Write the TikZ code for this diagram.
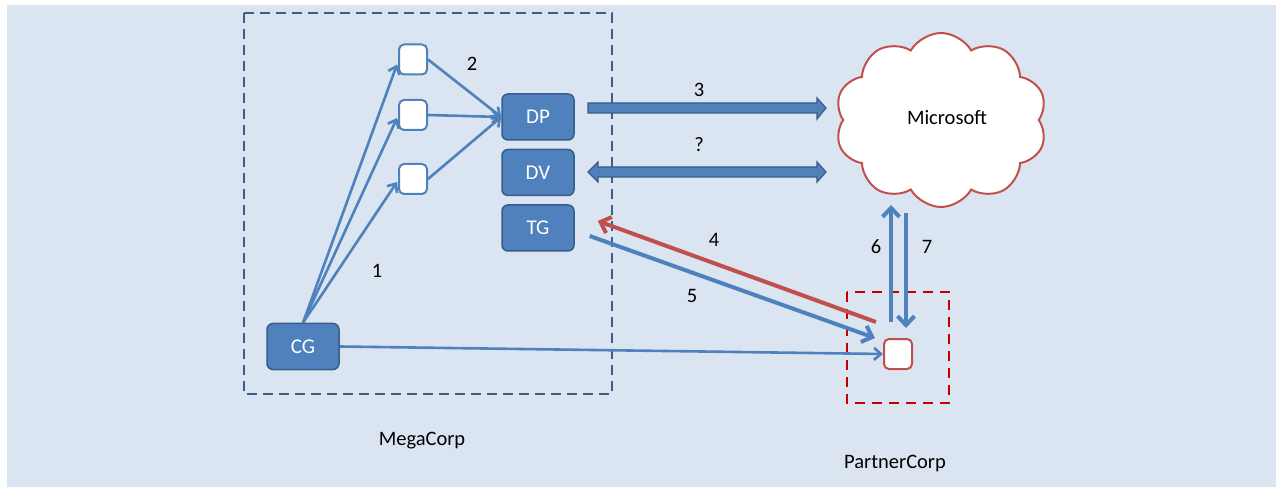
\documentclass[tikz,border=0pt]{standalone}
\usepackage{fontspec}
\setmainfont{Carlito}
\usetikzlibrary{arrows.meta,shapes.symbols,calc}
\definecolor{bg}{HTML}{DBE5F1}
\definecolor{obl}{HTML}{4F81BD}
\definecolor{obd}{HTML}{385D8A}
\definecolor{ored}{HTML}{C0504D}
\definecolor{dred}{HTML}{C00000}
\definecolor{mega}{HTML}{3C5F8A}
\begin{document}
\begin{tikzpicture}[x=1pt,y=-1pt,
  lbl/.style={font=\fontsize{20.5}{24}\selectfont, text=black, inner sep=0pt},
  bigbox/.style={draw=obd, fill=obl, line width=1.5pt, rounded corners=6pt, minimum width=72pt, minimum height=46pt, inner sep=0pt, text=white, font=\fontsize{21}{24}\selectfont},
  smallbox/.style={draw=obl, fill=white, line width=2pt, rounded corners=5pt, minimum width=28pt, minimum height=30pt, inner sep=0pt},
  thinarrow/.style={obl, line width=2.6pt, -{Straight Barb[length=7pt,width=12pt]}},
  thickarrow/.style={line width=4pt, -{Straight Barb[length=9pt,width=17pt]}},
  blockarrow/.style={draw=obd, fill=obl, line width=1.2pt, line join=miter},
  megabox/.style={draw=mega, line width=2.4pt, dash pattern=on 10pt off 6pt},
  partnerbox/.style={draw=dred, line width=2.4pt, dash pattern=on 10pt off 7pt}]
\useasboundingbox (0,0) rectangle (1278,489);
\fill[white] (0,0) rectangle (1278,489);
\fill[bg] (7,5) rectangle (1276,487);

% containers
\draw[megabox] (244,13) rectangle (612,394);
\draw[partnerbox] (847,292) rectangle (949,403);

% nodes
\node[bigbox] (DP) at (538,117) {DP};
\node[bigbox] (DV) at (538,172.5) {DV};
\node[bigbox] (TG) at (538,228) {TG};
\node[bigbox] (CG) at (303,346.5) {CG};
\node[smallbox] (s1) at (413,59.5) {};
\node[smallbox] (s2) at (413,115) {};
\node[smallbox] (s3) at (413,179) {};
\node[smallbox, draw=ored] (pc) at (898,354) {};
\node[cloud, cloud puffs=10, cloud puff arc=120, draw=ored, fill=white, line width=2pt,
      minimum width=212pt, minimum height=174pt, inner sep=0pt] (ms) at (941,120) {};
\node[lbl] (mst) at (947,118) {Microsoft};

% thin arrows
\draw[thinarrow] (CG.north) -- ($(s1.west)+(-1,5)$);
\draw[thinarrow] (CG.north) -- ($(s2.west)+(-1,3)$);
\draw[thinarrow] (CG.north) -- ($(s3.west)+(-1,3)$);
\draw[thinarrow] (s1.east) -- (DP.west);
\draw[thinarrow] (s2.east) -- (DP.west);
\draw[thinarrow] (s3.east) -- (DP.west);
\draw[thinarrow] (CG.east) -- (pc.west);

% block arrows
\draw[blockarrow] (588,103) -- (817,103) -- (817,98) -- (826,108) -- (817,119) -- (817,113) -- (588,113) -- cycle;
\draw[blockarrow] (588,172) -- (598,162) -- (598,167) -- (817,167) -- (817,162) -- (826,172) -- (817,182) -- (817,177) -- (598,177) -- (598,182) -- cycle;

% arrows 4-7
\coordinate (a4s) at (876,322);
\coordinate (a4e) at ($(TG.east)+(23,-7)$);
\coordinate (a5s) at ($(TG.east)+(15,8)$);
\coordinate (a5e) at (875,338);
\coordinate (a6s) at (891,322);
\coordinate (a6e) at (891,205);
\coordinate (a7s) at (906,213);
\coordinate (a7e) at (906,328);
\draw[thickarrow, ored] (a4s) -- (a4e);
\draw[thickarrow, obl] (a5s) -- (a5e);
\draw[thickarrow, obl] (a6s) -- (a6e);
\draw[thickarrow, obl] (a7s) -- (a7e);

% labels
\node[lbl] at (472,64) {2};
\node[lbl] at (377,271) {1};
\node[lbl] at (699,90) {3};
\node[lbl] at (699,145) {?};
\node[lbl] at (714,240) {4};
\node[lbl] at (692,296) {5};
\node[lbl] at (876,247) {6};
\node[lbl] at (927,247) {7};
\node[lbl] at (422,441) {MegaCorp};
\node[lbl] at (895,463) {PartnerCorp};
\end{tikzpicture}
\end{document}
